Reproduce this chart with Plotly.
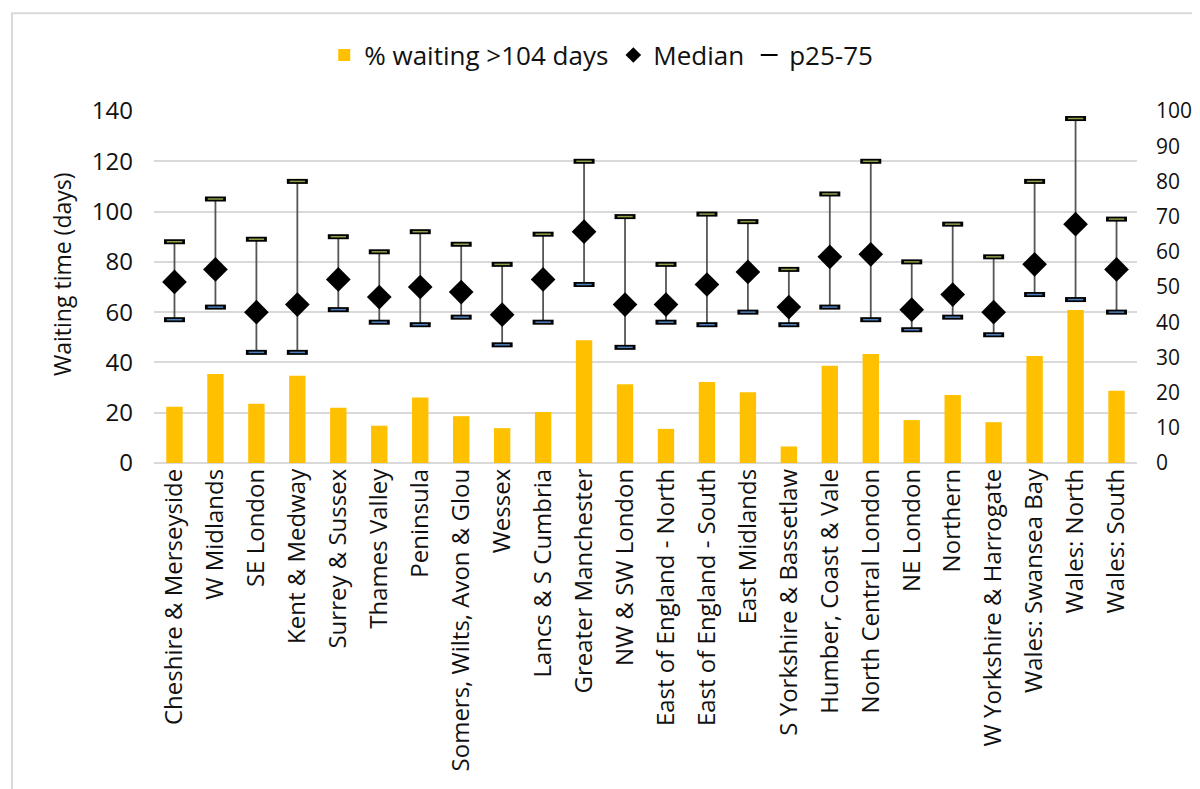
import plotly.graph_objects as go

regions = ["Cheshire & Merseyside", "W Midlands", "SE London", "Kent & Medway",
           "Surrey & Sussex", "Thames Valley", "Peninsula", "Somers, Wilts, Avon & Glou",
           "Wessex", "Lancs & S Cumbria", "Greater Manchester", "NW & SW London",
           "East of England - North", "East of England - South", "East Midlands",
           "S Yorkshire & Bassetlaw", "Humber, Coast & Vale", "North Central London",
           "NE London", "Northern", "W Yorkshire & Harrogate", "Wales: Swansea Bay",
           "Wales: North", "Wales: South"]
pct_over_104 = [16, 25.3, 16.8, 24.8, 15.7, 10.6, 18.6, 13.3, 9.9, 14.5, 34.9, 22.4,
                9.7, 23.0, 20.1, 4.7, 27.6, 31.0, 12.2, 19.3, 11.6, 30.4, 43.5, 20.5]
median = [72, 77, 60, 63, 73, 66, 70, 68, 59, 73, 92, 63, 63, 71, 76, 62, 82, 83, 61, 67, 60, 79, 95, 77]
p75 = [88, 105, 89, 112, 90, 84, 92, 87, 79, 91, 120, 98, 79, 99, 96, 77, 107, 120, 80, 95, 82, 112, 137, 97]
p25 = [57, 62, 44, 44, 61, 56, 55, 58, 47, 56, 71, 46, 56, 55, 60, 55, 62, 57, 53, 58, 51, 67, 65, 60]

FONT = "Open Sans"
fig = go.Figure()

fig.add_trace(go.Bar(x=regions, y=pct_over_104, yaxis="y2", name="% waiting >104 days",
                     marker=dict(color="#FFC000", line=dict(width=0)), width=0.4))

# whiskers (p25 to p75) drawn as error bars around median
fig.add_trace(go.Scatter(x=regions, y=median, mode="markers", showlegend=False,
                         marker=dict(size=0.1, color="rgba(0,0,0,0)"),
                         error_y=dict(type="data", symmetric=False,
                                      array=[a - m for a, m in zip(p75, median)],
                                      arrayminus=[m - b for b, m in zip(p25, median)],
                                      color="#555555", thickness=1.8, width=0),
                         hoverinfo="skip"))

fig.add_trace(go.Scatter(x=regions, y=median, mode="markers", name="Median",
                         marker=dict(symbol="diamond", size=19, color="black")))

# caps: black outline with coloured centre
fig.add_trace(go.Scatter(x=regions, y=p75, mode="markers", name="p25-75",
                         marker=dict(symbol="line-ew", size=15, line=dict(width=5, color="black"))))
fig.add_trace(go.Scatter(x=regions, y=p25, mode="markers", showlegend=False,
                         marker=dict(symbol="line-ew", size=15, line=dict(width=5, color="black"))))
fig.add_trace(go.Scatter(x=regions, y=p75, mode="markers", showlegend=False,
                         marker=dict(symbol="line-ew", size=11, line=dict(width=1.5, color="#8CA04A"))))
fig.add_trace(go.Scatter(x=regions, y=p25, mode="markers", showlegend=False,
                         marker=dict(symbol="line-ew", size=11, line=dict(width=1.5, color="#4F81BD"))))

fig.update_layout(
    width=1200, height=789,
    margin=dict(l=146, r=71, t=103, b=334, autoexpand=False),
    paper_bgcolor="white", plot_bgcolor="white",
    font=dict(family=FONT, color="#111111"),
    barmode="overlay",
    legend=dict(orientation="h", x=0.455, xanchor="center", y=1.159, yanchor="middle",
                font=dict(size=26, family=FONT), itemsizing="constant",
                traceorder="normal", bgcolor="rgba(0,0,0,0)"),
    xaxis=dict(tickangle=-90, tickfont=dict(size=24, family=FONT), showgrid=False,
               showline=False, ticks="", automargin=False, range=[-0.5, len(regions) - 0.5]),
    yaxis=dict(range=[0, 140], dtick=20, showgrid=True, gridcolor="#D9D9D9", gridwidth=1.5,
               zeroline=True, zerolinecolor="#D9D9D9", zerolinewidth=1.5, automargin=False,
               tickfont=dict(size=24, family=FONT), ticks="", ticklen=0, ticklabelstandoff=20),
    yaxis2=dict(range=[0, 100], dtick=10, overlaying="y", side="right", showgrid=False,
                zeroline=False, automargin=False, ticklabelstandoff=18,
                tickfont=dict(size=21, family=FONT)),
    annotations=[dict(text="Waiting time (days)", xref="paper", yref="paper",
                      x=-0.0936, y=0.537, textangle=-90, showarrow=False,
                      xanchor="center", yanchor="middle",
                      font=dict(size=23, family=FONT, color="#111111"))],
    shapes=[dict(type="rect", xref="paper", yref="paper", x0=-0.1445, x1=1.2, y0=-1.2, y1=1.278,
                 line=dict(color="#D9D9D9", width=2), layer="below")],
)

fig.write_html("out.html")
